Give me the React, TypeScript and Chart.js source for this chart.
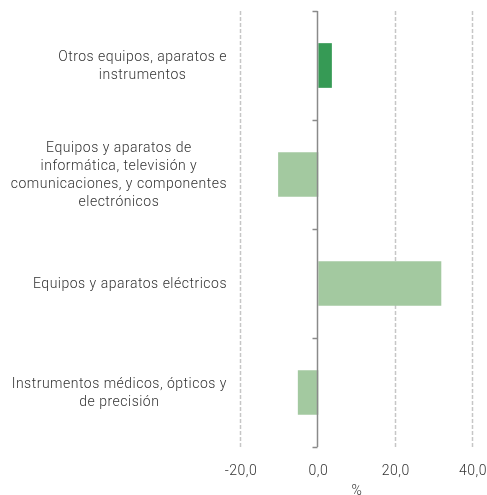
import React, { useEffect, useRef } from "react";
import { Chart, registerables } from "chart.js";

Chart.register(...registerables);

const categories: string[][] = [
  ["Otros equipos, aparatos e", "instrumentos"],
  ["Equipos y aparatos de", "informática, televisión y", "comunicaciones, y componentes", "electrónicos"],
  ["Equipos y aparatos eléctricos"],
  ["Instrumentos médicos, ópticos y", "de precisión"],
];
const values: number[] = [3.5, -10.4, 31.8, -5.3];
const barColors: string[] = ["#369A55", "#A3C9A0", "#A3C9A0", "#A3C9A0"];
const xTicks: number[] = [-20, 0, 20, 40];
const xTitle = "%";

const FONT = "Roboto, 'Liberation Sans', Arial, sans-serif";
const TEXT = "#333333";
const FSIZE = 14;
const FWEIGHT = "300";
const SPACING = "0.5px";

const decor = {
  id: "decor",
  beforeDraw(chart: any) {
    (chart.ctx as any).letterSpacing = SPACING;
  },
  beforeDatasetsDraw(chart: any) {
    const { ctx, chartArea, scales } = chart;
    const x = scales.x;
    ctx.save();
    ctx.strokeStyle = "#c6c6c6";
    ctx.lineWidth = 1.5;
    ctx.setLineDash([4, 2]);
    for (const v of xTicks) {
      if (v === 0) continue;
      const px = Math.round(x.getPixelForValue(v)) - 0.5;
      ctx.beginPath();
      ctx.moveTo(px, chartArea.top);
      ctx.lineTo(px, chartArea.bottom);
      ctx.stroke();
    }
    ctx.restore();
  },
  afterDatasetsDraw(chart: any) {
    const { ctx, chartArea, scales } = chart;
    const x = scales.x;
    const y = scales.y;
    ctx.save();
    const zx = Math.round(x.getPixelForValue(0)) - 0.5;
    ctx.strokeStyle = "#8a8a8a";
    ctx.lineWidth = 1.5;
    ctx.beginPath();
    ctx.moveTo(zx, chartArea.top);
    ctx.lineTo(zx, chartArea.bottom);
    ctx.stroke();
    const n = categories.length;
    for (let i = 0; i <= n; i++) {
      const py = chartArea.top + ((chartArea.bottom - chartArea.top) * i) / n;
      const yy = Math.round(py) + 0.5;
      ctx.beginPath();
      ctx.moveTo(zx - 5, yy);
      ctx.lineTo(zx, yy);
      ctx.stroke();
    }
    ctx.font = `${FWEIGHT} ${FSIZE}px ${FONT}`;
    (ctx as any).letterSpacing = SPACING;
    ctx.fillStyle = TEXT;
    ctx.textAlign = "center";
    ctx.textBaseline = "middle";
    const rightEdge = 227;
    const lh = 18.3;
    categories.forEach((lines, i) => {
      const cy = y.getPixelForValue(i) + 1;
      const maxW = Math.max(...lines.map((l) => ctx.measureText(l).width));
      const cx = rightEdge - maxW / 2;
      const start = cy - ((lines.length - 1) * lh) / 2;
      lines.forEach((l, j) => {
        ctx.fillText(l, cx, start + j * lh);
      });
    });
    ctx.restore();
  },
};

export default function App() {
  const ref = useRef<HTMLCanvasElement>(null);
  useEffect(() => {
    if (!ref.current) return;
    const chart = new Chart(ref.current, {
      type: "bar",
      data: {
        labels: categories.map((c) => c.join(" ")),
        datasets: [
          {
            data: values,
            backgroundColor: barColors,
            borderWidth: 0,
            categoryPercentage: 1,
            barPercentage: 0.41,
          },
        ],
      },
      options: {
        indexAxis: "y",
        animation: false,
        responsive: true,
        maintainAspectRatio: false,
        layout: { padding: { left: 241, right: 14, top: 11, bottom: 0 } },
        plugins: { legend: { display: false }, tooltip: { enabled: false } },
        scales: {
          x: {
            min: -20,
            max: 40,
            afterBuildTicks: (scale: any) => {
              scale.ticks = xTicks.map((v) => ({ value: v }));
            },
            afterFit: (scale: any) => {
              scale.height = 48;
              scale.paddingLeft = 0;
              scale.paddingRight = 0;
            },
            grid: { display: false },
            border: { display: false },
            ticks: {
              padding: 8,
              color: TEXT,
              font: { family: FONT, size: FSIZE, weight: FWEIGHT },
              callback: (v: any) => Number(v).toFixed(1).replace(".", ","),
              maxRotation: 0,
            },
            title: {
              display: true,
              text: xTitle,
              color: TEXT,
              font: { family: FONT, size: FSIZE, weight: FWEIGHT },
              padding: { top: 0, bottom: -5 },
            },
          },
          y: {
            display: false,
          },
        },
      },
      plugins: [decor],
    });
    return () => chart.destroy();
  }, []);
  return (
    <div style={{ position: "fixed", left: 0, top: 0, width: 487, height: 495, background: "#fff" }}>
      <canvas ref={ref} />
    </div>
  );
}
